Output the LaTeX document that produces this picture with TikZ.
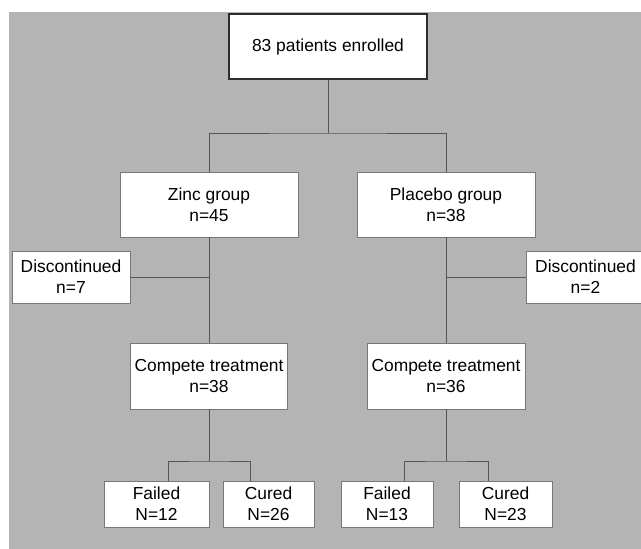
\documentclass[tikz,border=0pt]{standalone}
\usepackage{fontspec}
\setmainfont{Liberation Sans}
\definecolor{bggray}{RGB}{180,180,180}
\definecolor{boxgray}{RGB}{120,120,120}
\definecolor{linegray}{RGB}{85,85,85}
\definecolor{topborder}{RGB}{45,45,45}
\begin{document}
\begin{tikzpicture}[x=1pt,y=-1pt,
  box/.style={draw=boxgray,line width=0.8pt,fill=white,align=center,inner sep=0pt,
              font=\fontsize{17.4}{21}\selectfont},
  topbox/.style={box,draw=topborder,line width=1.5pt},
  link/.style={draw=linegray,line width=0.9pt}]
\clip (0,0) rectangle (641,549);
\fill[white] (0,0) rectangle (641,549);
\fill[bggray] (9,12) rectangle (641,549);

% nodes
\node[topbox,minimum width=198pt,minimum height=65pt] (top) at (328,46.5) {83 patients enrolled};
\node[box,minimum width=178pt,minimum height=65pt] (zinc) at (209,204.5) {Zinc group\\n=45};
\node[box,minimum width=178pt,minimum height=65pt] (placebo) at (446,204.5) {Placebo group\\n=38};
\node[box,minimum width=118pt,minimum height=52pt] (discL) at (71,277) {Discontinued\\n=7};
\node[box,minimum width=119pt,minimum height=52pt] (discR) at (585.5,277) {Discontinued\\n=2};
\node[box,minimum width=157pt,minimum height=66pt] (compL) at (209,376) {Compete treatment\\n=38};
\node[box,minimum width=158pt,minimum height=66pt] (compR) at (446,376) {Compete treatment\\n=36};
\node[box,minimum width=105pt,minimum height=46pt] (failL) at (156.5,504) {Failed\\N=12};
\node[box,minimum width=91pt,minimum height=46pt] (curedL) at (268.5,504) {Cured\\N=26};
\node[box,minimum width=92pt,minimum height=46pt] (failR) at (387,504) {Failed\\N=13};
\node[box,minimum width=93pt,minimum height=46pt] (curedR) at (505.5,504) {Cured\\N=23};

% junction coordinates
\coordinate (jtop) at (328,133);
\coordinate (jdiscL) at (209,277);
\coordinate (jdiscR) at (446,277);
\coordinate (jL) at (209,461);
\coordinate (jR) at (446,461);

% connectors
\draw[link] (top.south) -- (jtop);
\draw[link] (zinc.north) |- (jtop) -| (placebo.north);
\draw[link] (zinc.south) -- (compL.north);
\draw[link] (placebo.south) -- (compR.north);
\draw[link] (discL.east) -- (jdiscL);
\draw[link] (discR.west) -- (jdiscR);
\draw[link] (compL.south) -- (jL);
\draw[link] (compR.south) -- (jR);
\draw[link] ([xshift=11.5pt]failL.north) |- (jL) -| ([xshift=-18.5pt]curedL.north);
\draw[link] ([xshift=17pt]failR.north) |- (jR) -| ([xshift=-17.5pt]curedR.north);
\end{tikzpicture}
\end{document}
